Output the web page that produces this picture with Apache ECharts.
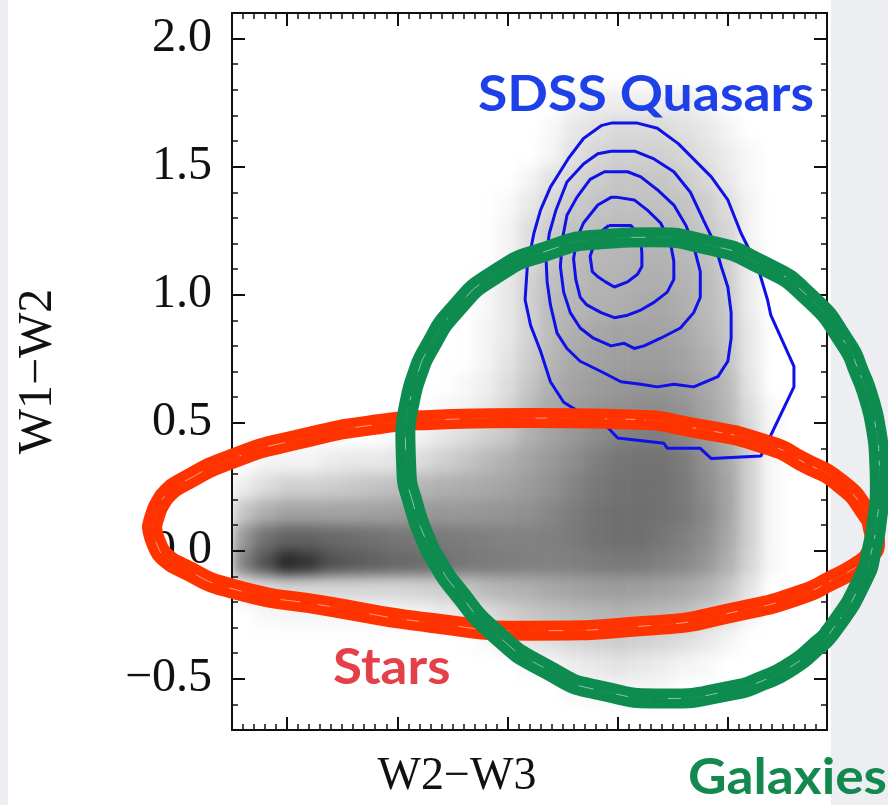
<!DOCTYPE html>
<html><head><meta charset="utf-8">
<script src="https://cdn.jsdelivr.net/npm/echarts@6/dist/echarts.min.js"></script>
<style>
html,body{margin:0;padding:0;width:888px;height:805px;overflow:hidden;background:#eceef1;}
#panel{position:absolute;left:8px;top:0;width:823px;height:805px;background:#fff;}
#hmwrap{position:absolute;left:232px;top:13px;width:595px;height:717px;overflow:hidden;}
#hm{position:absolute;left:0;top:0;width:595px;height:717px;filter:blur(7px);}
#main{position:absolute;left:0;top:0;width:888px;height:805px;}
</style></head><body>
<div id="panel"></div>
<div id="hmwrap"><div id="hm"></div></div>
<div id="main"></div>
<script>
// ---- axis ticks ----
const xMajorTicks = [0, 1, 2, 3, 4];
const yTickValues = [-0.5, 0, 0.5, 1.0, 1.5, 2.0];
const yTickLabels = ['\u22120.5', '0.0', '0.5', '1.0', '1.5', '2.0'];

// ---- density map (grey image), cells of 0.2 (W2-W3) x 0.1 (W1-W2) ----
const xCells = ['-0.4','-0.2','0.0','0.2','0.4','0.6','0.8','1.0','1.2','1.4','1.6','1.8','2.0','2.2','2.4','2.6','2.8','3.0','3.2','3.4','3.6','3.8','4.0','4.2','4.4','4.6','4.8'];
// rows listed from top (2.05) to bottom (-0.65)
const yCellsTopDown = ['2.05','1.95','1.85','1.75','1.65','1.55','1.45','1.35','1.25','1.15','1.05','0.95','0.85','0.75','0.65','0.55','0.45','0.35','0.25','0.15','0.05','-0.05','-0.15','-0.25','-0.35','-0.45','-0.55','-0.65'];
const density = [
 [0,0,0,0,0,0,0,0,0,0,0,0,0,0,0,0,0,0,0,0,0,0,0,0,0,0,0],
 [0,0,0,0,0,0,0,0,0,0,0,0,0,0,0,0,0,0,0,0,0,0,0,0,0,0,0],
 [0,0,0,0,0,0,0,0,0,0,0,0,0,0,0,0,0,0,0,0,0,0,0,0,0,0,0],
 [0,0,0,0,0,0,0,0,0,0,0,0,0,0,0,0.5,0.8,0.8,0.8,0.8,0.8,0.5,0,0,0,0,0],
 [0,0,0,0,0,0,0,0,0,0,0,0,0,0,0.3,1,1.3,1.6,1.6,1.6,1.3,1,0.5,0,0,0,0],
 [0,0,0,0,0,0,0,0,0,0,0,0,0,0,0.5,1.3,1.8,2,2,2,1.8,1.3,0.8,0.3,0,0,0],
 [0,0,0,0,0,0,0,0,0,0,0,0,0,0.5,1.3,1.8,2.2,2.5,2.5,2.5,2.2,1.8,1,0.3,0,0,0],
 [0,0,0,0,0,0,0,0,0,0,0,0,0.3,1,1.8,2.3,2.6,2.7,2.7,2.7,2.6,2.2,1.5,0.5,0,0,0],
 [0,0,0,0,0,0,0,0,0,0,0,0,0.5,1.5,2.3,2.7,2.8,3,3,3,2.8,2.4,1.8,0.5,0,0,0],
 [0,0,0,0,0,0,0,0,0,0,0,0,0.5,1.5,2.5,2.9,3.1,3.2,3.3,3.3,3.1,2.8,2,0.7,0,0,0],
 [0,0,0,0,0,0,0,0,0,0,0,0.3,1,2,2.8,3,3.3,3.3,3.5,3.5,3.3,3,2.2,0.8,0,0,0],
 [0,0,0,0,0,0,0,0,0,0,0,0.3,1,2,3,3.2,3.4,3.5,3.7,3.8,3.5,3,2.3,0.8,0,0,0],
 [0,0,0,0,0,0,0,0,0,0,0,0.5,1,2,3,3.5,3.8,4,4,4,3.8,3.2,2.5,1,0,0,0],
 [0,0,0,0,0,0,0,0,0,0,0,0.5,1.2,2.2,3.2,3.8,4,4.2,4.3,4.3,4,3.5,2.7,1,0,0,0],
 [0,0,0,0,0,0,0,0,0,0,0.3,0.7,1.5,2.5,3.5,4,4.3,4.5,4.6,4.6,4.3,3.8,3,1.2,0,0,0],
 [0,0,0,0,0,0,0,0,0,0.3,0.5,1,1.8,3,3.8,4.3,4.6,4.8,5,5,4.7,4,3.2,1.5,0.3,0,0],
 [0,0,0,0,0,0,0,0.3,0.5,1,1.5,2,2.5,3.5,4,4.5,5,5.4,5.6,5.6,5.2,4.4,3.5,1.8,0.3,0,0],
 [0,0.5,0.5,0.5,0.8,1,1,1.2,1.5,2,2.5,3,3.5,4,4.5,5,5.6,6,6.1,6.1,5.7,4.8,3.8,2,0.3,0,0],
 [0.8,1.5,2,2,2.2,2.4,2.6,2.8,3.2,3.4,3.6,3.8,4,4.4,4.8,5.4,5.9,6.1,6.2,6.2,5.8,5,4,2,0.3,0,0],
 [2.5,3.5,4,4,4,4,4.1,4.2,4.4,4.5,4.5,4.6,4.7,4.9,5.3,5.7,6.1,6.3,6.3,6.2,5.9,5.2,4,2,0.3,0,0],
 [4.5,6.2,6.8,6.8,6.6,6.4,6.2,6,5.9,5.8,5.7,5.6,5.5,5.5,5.6,5.8,6.1,6.3,6.3,6,5.6,5,3.8,2,0.3,0,0],
 [5.5,7.5,9.4,8.8,7.6,7.2,6.9,6.6,6.4,6.2,6,5.8,5.7,5.6,5.5,5.6,5.7,5.8,5.8,5.5,5.2,4.6,3.5,1.8,0.3,0,0],
 [1,1.5,1.8,1.8,1.8,1.8,1.8,1.8,1.9,2.1,2.5,3,3.3,3.5,3.8,4,4.2,4.3,4.2,4,3.8,3.3,2.5,1.2,0,0,0],
 [0,0.3,0.4,0.4,0.4,0.4,0.4,0.4,0.5,0.8,1,1.5,2,2.5,2.8,3,3.2,3.3,3.2,3,2.8,2.2,1.5,0.5,0,0,0],
 [0,0,0,0,0,0,0,0,0,0,0,0.3,0.8,1.2,1.5,1.8,2,2.2,2,1.8,1.5,1,0.5,0,0,0,0],
 [0,0,0,0,0,0,0,0,0,0,0,0,0,0.3,0.5,0.8,1,1.2,1,0.8,0.5,0.3,0,0,0,0,0],
 [0,0,0,0,0,0,0,0,0,0,0,0,0,0,0,0.3,0.4,0.5,0.4,0.3,0,0,0,0,0,0,0],
 [0,0,0,0,0,0,0,0,0,0,0,0,0,0,0,0,0,0,0,0,0,0,0,0,0,0,0]
];

// ---- SDSS quasar contours (W2-W3, W1-W2) ----
const contour1 = [[2.94,1.67],[3.18,1.67],[3.36,1.65],[3.55,1.59],[3.85,1.46],[4.0,1.37],[4.12,1.24],[4.27,1.11],[4.36,0.98],[4.39,0.92],[4.6,0.72],[4.6,0.64],[4.3,0.37],[3.85,0.36],[3.75,0.40],[3.45,0.40],[3.42,0.42],[3.0,0.44],[2.85,0.51],[2.66,0.54],[2.51,0.58],[2.39,0.66],[2.3,0.78],[2.21,0.88],[2.16,0.98],[2.18,1.11],[2.24,1.24],[2.3,1.33],[2.39,1.42],[2.55,1.53],[2.69,1.61],[2.85,1.66],[2.94,1.67]];
const contour2 = [[2.94,1.56],[3.16,1.56],[3.33,1.53],[3.51,1.48],[3.66,1.40],[3.78,1.29],[3.88,1.20],[3.94,1.11],[4.0,1.03],[4.03,0.93],[4.03,0.83],[4.0,0.74],[3.91,0.68],[3.69,0.64],[3.51,0.65],[3.36,0.64],[3.21,0.65],[3.03,0.66],[2.85,0.70],[2.66,0.74],[2.54,0.79],[2.45,0.85],[2.39,0.96],[2.36,1.05],[2.35,1.14],[2.38,1.24],[2.44,1.33],[2.54,1.44],[2.69,1.51],[2.82,1.55],[2.94,1.56]];
const contour3 = [[2.94,1.48],[3.09,1.48],[3.21,1.46],[3.36,1.41],[3.51,1.35],[3.62,1.27],[3.69,1.19],[3.75,1.09],[3.75,0.99],[3.69,0.93],[3.57,0.87],[3.39,0.83],[3.24,0.80],[3.15,0.79],[3.06,0.81],[2.94,0.80],[2.78,0.83],[2.66,0.87],[2.57,0.93],[2.51,1.01],[2.48,1.11],[2.5,1.22],[2.54,1.31],[2.63,1.38],[2.75,1.45],[2.88,1.48],[2.94,1.48]];
const contour4 = [[3.0,1.38],[3.15,1.37],[3.27,1.33],[3.39,1.28],[3.48,1.20],[3.51,1.13],[3.51,1.06],[3.45,1.01],[3.33,0.97],[3.21,0.94],[3.09,0.92],[2.97,0.91],[2.85,0.93],[2.72,0.96],[2.66,0.99],[2.62,1.06],[2.6,1.14],[2.63,1.22],[2.69,1.28],[2.82,1.35],[2.94,1.38],[3.0,1.38]];
const contour5 = [[2.92,1.27],[3.12,1.27],[3.16,1.25],[3.21,1.22],[3.22,1.16],[3.22,1.11],[3.18,1.08],[3.09,1.05],[2.97,1.03],[2.89,1.05],[2.82,1.07],[2.77,1.09],[2.75,1.15],[2.79,1.20],[2.83,1.24],[2.92,1.27]];

// ---- hand-drawn rings (same data units, drawn beyond the frame) ----
const starsRing = [[-1.227,0.094],[-1.191,0.148],[-1.155,0.183],[-1.082,0.226],[-0.973,0.261],[-0.5,0.359],[0.118,0.436],[0.845,0.495],[1.3,0.511],[2.209,0.518],[3.027,0.514],[3.755,0.475],[4.391,0.409],[4.664,0.351],[5.027,0.261],[5.264,0.144],[5.318,0.086],[5.336,0.027],[5.29,-0.016],[5.209,-0.051],[4.936,-0.117],[4.664,-0.171],[4.118,-0.234],[3.3,-0.292],[2.209,-0.312],[1.3,-0.281],[0.391,-0.218],[-0.5,-0.148],[-0.973,-0.062],[-1.1,-0.027],[-1.173,0.016],[-1.227,0.094]];
const galaxiesRing = [[1.073,0.475],[1.118,0.592],[1.182,0.690],[1.282,0.787],[1.527,0.943],[1.891,1.080],[2.345,1.169],[2.845,1.216],[3.3,1.224],[3.8,1.196],[4.3,1.118],[4.736,0.990],[5.073,0.807],[5.19,0.70],[5.282,0.592],[5.345,0.475],[5.373,0.359],[5.38,0.242],[5.355,0.125],[5.309,0.008],[5.227,-0.109],[4.955,-0.304],[4.78,-0.382],[4.573,-0.452],[4.318,-0.507],[4.027,-0.546],[3.436,-0.577],[2.845,-0.546],[2.345,-0.460],[1.891,-0.323],[1.527,-0.148],[1.373,-0.051],[1.255,0.047],[1.145,0.183],[1.082,0.320],[1.073,0.475]];

// ================= density chart =================
const cells = [];
density.forEach((row, r) => {
  row.forEach((v, c) => { cells.push([c, density.length - 1 - r, v]); });
});
const yCells = yCellsTopDown.slice().reverse();
const hm = echarts.init(document.getElementById('hm'));
hm.setOption({
  animation: false,
  grid: {left: 0, right: 0, top: 0, bottom: 0},
  xAxis: {type: 'category', data: xCells, show: false},
  yAxis: {type: 'category', data: yCells, show: false},
  visualMap: {show: false, min: 0, max: 10, inRange: {color: ['#ffffff', '#1a1a1a']}},
  series: [{type: 'heatmap', data: cells, itemStyle: {borderWidth: 0}}]
});

// ================= main chart =================
const black = '#111';
const X_MIN = -0.5, X_MAX = 4.9, Y_MIN = -0.7, Y_MAX = 2.1;
const G = {left: 232, top: 13, width: 595, height: 717};
const W = 888, H = 805;
// an overlay grid covering the whole canvas with identical data->pixel scale
const kx = G.width / (X_MAX - X_MIN), ky = G.height / (Y_MAX - Y_MIN);
const OX_MIN = X_MIN - G.left / kx, OX_MAX = X_MAX + (W - G.left - G.width) / kx;
const OY_MAX = Y_MAX + G.top / ky, OY_MIN = Y_MIN - (H - G.top - G.height) / ky;

function xAx(pos, major) {
  const a = {
    type: 'value', position: pos, min: X_MIN, max: X_MAX, gridIndex: 0,
    axisLine: {show: true, onZero: false, lineStyle: {color: black, width: 2}},
    axisTick: {show: true, inside: true, length: major ? 13 : 6, lineStyle: {color: black, width: major ? 2 : 1.5}},
    axisLabel: {show: false}, splitLine: {show: false}
  };
  if (major) { a.minInterval = 1; a.maxInterval = 1; a.axisTick.customValues = xMajorTicks; }
  else { a.interval = 0.1; }
  return a;
}
function yAx(pos, major, labels) {
  const a = {
    type: 'value', position: pos, min: Y_MIN, max: Y_MAX, gridIndex: 0,
    axisLine: {show: true, onZero: false, lineStyle: {color: black, width: 2}},
    axisTick: {show: true, inside: true, length: major ? 13 : 6, lineStyle: {color: black, width: major ? 2 : 1.5}},
    axisLabel: {show: false}, splitLine: {show: false}
  };
  if (major) { a.minInterval = 0.5; a.maxInterval = 0.5; a.axisTick.customValues = yTickValues; }
  else { a.interval = 0.1; }
  if (labels) {
    a.axisLabel = {
      show: true, margin: 20, fontFamily: 'Liberation Serif', fontSize: 48, color: black,
      customValues: yTickValues,
      formatter: function (v) {
        for (let i = 0; i < yTickValues.length; i++) if (Math.abs(v - yTickValues[i]) < 1e-6) return yTickLabels[i];
        return '';
      }
    };
    a.name = 'W1\u2212W2';
    a.nameLocation = 'middle';
    a.nameGap = 194;
    a.nameRotate = 90;
    a.nameTextStyle = {fontFamily: 'Liberation Serif', fontSize: 48, color: black, verticalAlign: 'middle'};
  }
  return a;
}
function contour(d) {
  return {type: 'line', data: d, symbol: 'none', smooth: false, z: 3,
    lineStyle: {color: '#1010e8', width: 3}};
}
function ring(d, color, z) {
  return [
    {type: 'line', data: d, xAxisIndex: 4, yAxisIndex: 4, symbol: 'none', smooth: 0.6, clip: false, z: z,
      lineStyle: {color: color, width: 20, cap: 'round', join: 'round'}},
    {type: 'line', data: d, xAxisIndex: 4, yAxisIndex: 4, symbol: 'none', smooth: 0.6, clip: false, z: z,
      lineStyle: {color: 'rgba(255,255,255,0.5)', width: 1, type: [22, 7, 4, 16, 30, 9]}},
    {type: 'line', data: d, xAxisIndex: 4, yAxisIndex: 4, symbol: 'none', smooth: 0.6, clip: false, z: z,
      lineStyle: {color: color, width: 2.5, type: [40, 12, 18, 20], dashOffset: 11, opacity: 0.9}}
  ];
}

const chart = echarts.init(document.getElementById('main'));
chart.setOption({
  animation: false,
  grid: [
    {left: G.left, top: G.top, width: G.width, height: G.height},
    {left: 0, top: 0, width: W, height: H}
  ],
  xAxis: [xAx('bottom', true), xAx('bottom', false), xAx('top', true), xAx('top', false),
    {type: 'value', gridIndex: 1, min: OX_MIN, max: OX_MAX, show: false}],
  yAxis: [yAx('left', true, true), yAx('left', false, false), yAx('right', true, false), yAx('right', false, false),
    {type: 'value', gridIndex: 1, min: OY_MIN, max: OY_MAX, show: false}],
  series: [
    contour(contour1), contour(contour2), contour(contour3), contour(contour4), contour(contour5)
  ].concat(ring(starsRing, '#ff3300', 5)).concat(ring(galaxiesRing, '#0e8c50', 6)),
  graphic: [
    {type: 'text', x: 457, y: 777, z: 10, style: {text: 'W2\u2212W3', font: '46px "Liberation Serif"', fill: black,
      align: 'center', verticalAlign: 'middle', textAlign: 'center', textVerticalAlign: 'middle'}},
    {type: 'text', x: 478, y: 95, z: 10, scaleX: 1.07, style: {text: 'SDSS Quasars', font: 'bold 50px Lato', fill: '#1e40e8',
      align: 'left', verticalAlign: 'middle', textAlign: 'left', textVerticalAlign: 'middle'}},
    {type: 'text', x: 333, y: 668, z: 10, scaleX: 1.06, style: {text: 'Stars', font: 'bold 50px Lato', fill: '#e5404a',
      align: 'left', verticalAlign: 'middle', textAlign: 'left', textVerticalAlign: 'middle'}},
    {type: 'text', x: 688, y: 778, z: 10, scaleX: 1.065, style: {text: 'Galaxies', font: 'bold 50px Lato', fill: '#14894f',
      align: 'left', verticalAlign: 'middle', textAlign: 'left', textVerticalAlign: 'middle'}}
  ]
});
</script>
</body></html>
